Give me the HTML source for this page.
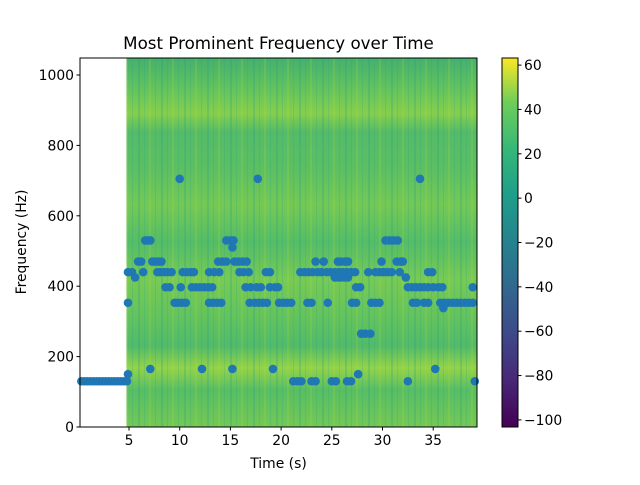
<!DOCTYPE html>
<html><head><meta charset="utf-8"><style>
body{margin:0;background:#fff;font-family:"Liberation Sans","DejaVu Sans",sans-serif;}
svg text{font-family:"DejaVu Sans","Liberation Sans",sans-serif;}
</style></head><body>
<svg id="c" width="640" height="480" viewBox="0 0 640 480">
<defs>
<linearGradient id="vir" x1="0" y1="1" x2="0" y2="0">
<stop offset="0" stop-color="#440154"/><stop offset="0.13" stop-color="#482878"/><stop offset="0.25" stop-color="#3e4989"/><stop offset="0.38" stop-color="#31688e"/><stop offset="0.5" stop-color="#26828e"/><stop offset="0.63" stop-color="#1f9e89"/><stop offset="0.75" stop-color="#35b779"/><stop offset="0.88" stop-color="#6ece58"/><stop offset="1" stop-color="#fde725"/>
</linearGradient>
<linearGradient id="spec" x1="0" y1="0" x2="0" y2="1">
<stop offset="0" stop-color="#45b06e"/><stop offset="0.08" stop-color="#62c25f"/><stop offset="0.15" stop-color="#86cf4c"/><stop offset="0.2" stop-color="#55bb68"/><stop offset="0.3" stop-color="#5cbf63"/><stop offset="0.4" stop-color="#74c956"/><stop offset="0.5" stop-color="#55bc67"/><stop offset="0.6" stop-color="#78ca54"/><stop offset="0.7" stop-color="#64c35d"/><stop offset="0.78" stop-color="#52ba69"/><stop offset="0.84" stop-color="#94d348"/><stop offset="0.9" stop-color="#58be64"/><stop offset="1" stop-color="#74c856"/>
</linearGradient>
<pattern id="stripes" width="23" height="10" patternUnits="userSpaceOnUse">
<rect x="0" y="0" width="2" height="10" fill="#1f9e89" opacity="0.25"/>
<rect x="6" y="0" width="1" height="10" fill="#1f9e89" opacity="0.2"/>
<rect x="11" y="0" width="2" height="10" fill="#b5de2b" opacity="0.18"/>
<rect x="17" y="0" width="1" height="10" fill="#1f9e89" opacity="0.2"/>
</pattern>
</defs>
<g id="plot"></g>
</svg>
<script>
const xTicks=[5,10,15,20,25,30,35];
const yTicks=[0,200,400,600,800,1000];
const cbTicks=[60,40,20,0,-20,-40,-60,-80,-100];
const bgTimes=[0.3,0.6,0.9,1.2,1.5,1.8,2.1,2.4,2.7,3.0,3.3,3.6,3.9,4.2,4.5,4.8];
const bgFreqs=[130,130,130,130,130,130,130,130,130,130,130,130,130,130,130,130];
const times=[4.9,4.9,4.9,5.3,5.6,5.9,6.2,6.4,6.6,6.9,7.1,7.1,7.3,7.6,7.9,8.2,8.5,7.8,8.1,8.8,9.2,
8.6,9.0,9.5,9.8,10.0,10.1,10.2,10.6,10.3,10.7,11.1,11.4,11.2,11.6,12.0,12.4,12.8,13.2,12.2,12.9,13.3,13.7,14.1,12.9,13.4,13.9,13.8,14.2,14.6,14.6,15.0,15.3,15.2,15.2,15.4,15.8,16.2,16.6,15.9,16.3,16.8,16.5,17.0,16.9,17.4,17.8,18.2,18.6,17.7,17.6,18.0,18.5,18.9,18.9,19.2,19.4,19.7,19.8,20.2,20.6,21.0,21.2,21.6,22.0,21.9,22.3,22.6,23.0,22.7,23.1,23.4,23.6,24.0,24.2,23.0,23.4,24.5,24.6,24.9,25.0,25.4,25.3,25.6,25.9,26.3,26.6,25.6,25.9,26.3,26.6,25.3,25.7,26.1,26.5,26.9,26.5,26.9,27.6,27.0,27.4,27.4,27.8,27.3,27.9,28.3,28.8,28.6,28.9,29.3,29.7,29.3,29.7,30.1,30.5,29.9,30.3,30.7,31.1,31.5,30.9,31.4,31.8,32.0,31.7,32.3,32.5,32.5,32.9,33.3,33.0,33.4,33.7,34.1,34.5,33.7,34.1,34.5,34.9,34.5,35.0,35.2,35.5,35.9,35.7,36.0,36.1,36.5,36.9,37.3,37.7,38.1,38.5,38.9,38.9,39.1];
const freqs=[353,150,440,440,425,470,470,440,530,530,530,165,470,470,470,470,440,440,440,440,440,
397,397,353,353,705,397,353,353,440,440,440,440,397,397,397,397,397,397,165,353,353,353,353,440,440,440,470,470,470,530,530,530,510,165,470,470,470,470,440,440,440,397,397,353,353,353,353,353,705,397,397,440,440,397,165,397,397,353,353,353,353,130,130,130,440,440,353,353,440,440,470,440,440,470,130,130,440,353,440,130,130,425,425,425,425,425,470,470,470,470,440,440,440,440,440,130,130,150,353,353,397,397,440,265,265,265,440,353,353,353,440,440,440,440,470,530,530,530,530,440,470,470,470,440,425,397,130,397,397,353,353,705,353,353,397,397,440,440,397,397,165,397,397,353,338,353,353,353,353,353,353,353,353,397,130];
const NS='http://www.w3.org/2000/svg';
const g=document.getElementById('plot');
const L=80,R=477,T=58,B=427;
const xs=t=>78.3+t*10.14;
const ys=f=>427-f*0.352;
const cs=v=>427-(v+103.2)*(369/166.4);
function mk(tag,attrs,parent){const e=document.createElementNS(NS,tag);for(const k in attrs)e.setAttribute(k,attrs[k]);(parent||g).appendChild(e);return e;}
function txt(s,x,y,anchor,size,extra){const e=mk('text',Object.assign({x:x,y:y,'text-anchor':anchor,'font-size':size,fill:'#000'},extra||{}));e.textContent=s;return e;}
let sp=mk('rect',{x:xs(4.75),y:T,width:R-xs(4.75),height:B-T,fill:'url(#spec)'});


let st=mk('rect',{x:xs(4.75),y:T,width:R-xs(4.75),height:B-T,fill:'url(#stripes)'});


function dot(t,f){const c=mk('circle',{cx:xs(t),cy:ys(f),r:4.3,fill:'#1f77b4'});

}
bgTimes.forEach((t,i)=>dot(t,bgFreqs[i]));
times.forEach((t,i)=>dot(t,freqs[i]));
mk('rect',{x:60,y:B+0.5,width:430,height:6,fill:'#fff'});
let fr=mk('rect',{x:L,y:T,width:R-L,height:B-T,fill:'none',stroke:'#000','stroke-width':1});


xTicks.forEach(v=>{const x=xs(v);mk('line',{x1:x,x2:x,y1:B,y2:B+3.5,stroke:'#000'});
const t=txt(String(v),x,B+18,'middle',13.9);

});
yTicks.forEach(v=>{const y=ys(v);mk('line',{x1:L-3.5,x2:L,y1:y,y2:y,stroke:'#000'});
const t=txt(String(v),L-6,y+5,'end',13.9);

});
let ti=txt('Most Prominent Frequency over Time',278.5,49,'middle',16.7);


let xl=txt('Time (s)',278.5,468,'middle',13.9);


let yl=txt('Frequency (Hz)',26,242,'middle',13.9,{transform:'rotate(-90 26 242)'});


let cb=mk('rect',{x:502,y:T,width:16,height:B-T,fill:'url(#vir)',stroke:'#000','stroke-width':1});


cbTicks.forEach(v=>{const y=cs(v);mk('line',{x1:518,x2:521.5,y1:y,y2:y,stroke:'#000'});
const t=txt(v<0?'\u2212'+(-v):String(v),524,y+5,'start',13.9);

});
</script>
</body></html>
